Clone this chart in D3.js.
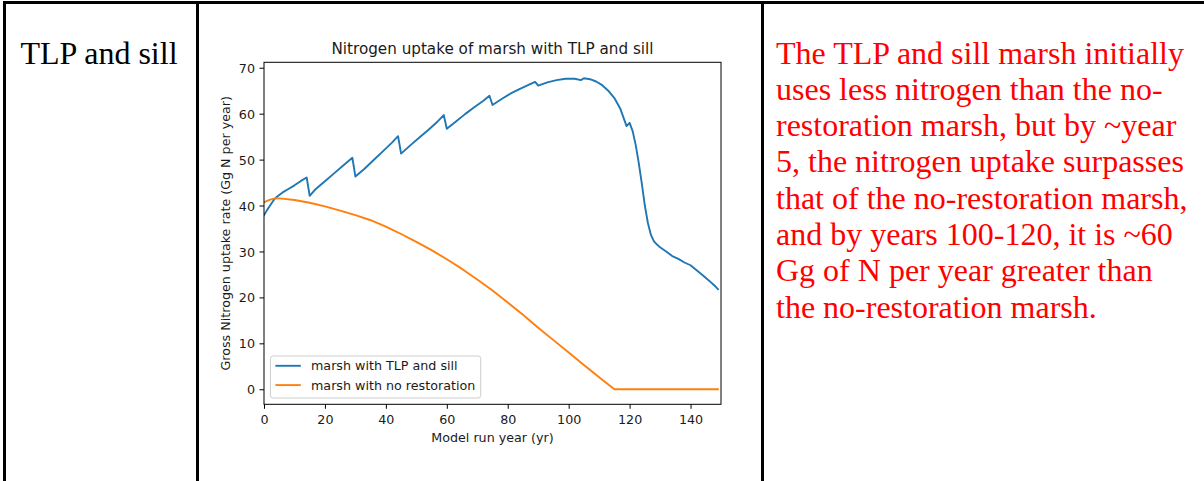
<!DOCTYPE html>
<html>
<head>
<meta charset="utf-8">
<script src="https://cdn.jsdelivr.net/npm/d3@7"></script>
<style>
  html, body { margin: 0; padding: 0; background: #fff; }
  svg { display: block; }
  .cell-text { font-family: "Liberation Serif", "Times New Roman", serif; font-size: 32px; }
  .note { fill: #ff0000; }
  .chart text { font-family: "DejaVu Sans", sans-serif; fill: #1a1a1a; }
  .tick-label { font-size: 12.7px; }
  .axis-label { font-size: 12.7px; }
  .title { font-size: 15.2px; }
  .legend-label { font-size: 12.7px; }
</style>
</head>
<body>
<div class="graphic"></div>
<script>
// ---- data ----
const rowLabel = "TLP and sill"
const chartTitle = "Nitrogen uptake of marsh with TLP and sill"
const xLabel = "Model run year (yr)"
const yLabel = "Gross Nitrogen uptake rate (Gg N per year)"
const seriesNames = ["marsh with TLP and sill", "marsh with no restoration"]

const tlpYears = [0, 1, 2, 3, 4, 6, 8, 10, 12, 14,
    15, 17, 20, 23, 26, 29,
    30, 33, 36, 39, 42, 44,
    45, 48, 51, 54, 57, 59,
    60, 63, 66, 69, 72, 74,
    75, 78, 81, 84, 87, 89,
    90, 93, 96, 99, 102, 104,
    105, 107, 109, 111, 113, 115, 117, 119,
    120, 121, 122, 123, 124, 125, 126, 127, 128, 129, 130,
    132, 134, 136, 138, 140, 142, 144, 146, 148, 149]
const tlpUptake = [37.9, 39.0, 40.0, 41.0, 41.8, 42.8, 43.6, 44.4, 45.3, 46.1,
    42.1, 43.6, 45.3, 47.0, 48.7, 50.4,
    46.3, 48.0, 49.9, 51.8, 53.7, 55.1,
    51.3, 53.1, 54.8, 56.5, 58.3, 59.7,
    56.7, 58.3, 59.9, 61.4, 62.8, 63.9,
    61.9, 63.2, 64.4, 65.4, 66.3, 66.9,
    66.1, 66.8, 67.3, 67.6, 67.6, 67.3,
    67.7, 67.5, 67.0, 66.2, 65.0, 63.4, 61.0, 57.3,
    58.0, 56.2, 53.2, 49.3, 44.8, 40.0, 36.2, 33.6, 32.2, 31.5, 30.9,
    30.0, 29.0, 28.4, 27.6, 27.0, 25.9, 24.8, 23.7, 22.5, 21.8]

const noRestYears = [0, 2, 4, 6, 10, 15, 20, 25, 30, 35, 40, 45, 50, 55, 60, 65,
    70, 75, 80, 85, 90, 95, 100, 105, 110, 115, 120, 130, 140, 149]
const noRestUptake = [40.7, 41.3, 41.6, 41.5, 41.2, 40.6, 39.8, 38.9, 37.9, 36.8, 35.4, 33.8, 32.1, 30.3, 28.3, 26.2,
    23.9, 21.5, 18.9, 16.2, 13.4, 10.7, 8.0, 5.3, 2.6, 0, 0, 0, 0, 0]

const xTicks = [0, 20, 40, 60, 80, 100, 120, 140]
const yTicks = [0, 10, 20, 30, 40, 50, 60, 70]

const noteLines = [
    "The TLP and sill marsh initially",
    "uses less nitrogen than the no-",
    "restoration marsh, but by ~year",
    "5, the nitrogen uptake surpasses",
    "that of the no-restoration marsh,",
    "and by years 100-120, it is ~60",
    "Gg of N per year greater than",
    "the no-restoration marsh."
]

const colors = ["#1f77b4", "#ff7f0e"]

const width = 1204
const height = 481

const $svg = d3.select(".graphic").append("svg")
    .attr("width", width)
    .attr("height", height)

$svg.append("rect")
    .attr("width", width)
    .attr("height", height)
    .attr("fill", "#fff")

function drawTable() {
    // thick word-table borders
    const bw = 3
    const g = $svg.append("g").attr("fill", "#000")
    g.append("rect").attr("x", 3).attr("y", 1).attr("width", width).attr("height", bw)
    g.append("rect").attr("x", 3).attr("y", 1).attr("width", bw).attr("height", height)
    g.append("rect").attr("x", 196).attr("y", 1).attr("width", bw).attr("height", height)
    g.append("rect").attr("x", 761).attr("y", 1).attr("width", bw).attr("height", height)

    $svg.append("text")
        .attr("class", "cell-text")
        .attr("x", 20.5)
        .attr("y", 63.5)
        .text(rowLabel)

    const note = $svg.append("text")
        .attr("class", "cell-text note")
        .attr("x", 776)
        .attr("y", 63.5)

    note.selectAll("tspan")
        .data(noteLines)
        .enter()
        .append("tspan")
        .attr("x", 776)
        .attr("y", (d, i) => 63.5 + i * 36.3)
        .text(d => d)
}

function drawChart() {
    const left = 264, right = 721, top = 62.3, bottom = 404.3
    const tickLen = 4.5

    const x = d3.scaleLinear().domain([0, 150]).range([left, right])
    const y = d3.scaleLinear().domain([-3.27, 71.18]).range([bottom, top])

    const chart = $svg.append("g").attr("class", "chart")

    const line = d3.line()
        .x(d => x(d[0]))
        .y(d => y(d[1]))

    const series = [
        d3.zip(tlpYears, tlpUptake),
        d3.zip(noRestYears, noRestUptake)
    ]

    chart.append("defs").append("clipPath")
        .attr("id", "plot-clip")
        .append("rect")
        .attr("x", left).attr("y", top)
        .attr("width", right - left).attr("height", bottom - top)

    chart.append("g")
        .attr("clip-path", "url(#plot-clip)")
        .selectAll("path.series")
        .data(series)
        .enter()
        .append("path")
        .attr("class", "series")
        .attr("d", line)
        .attr("fill", "none")
        .attr("stroke", (d, i) => colors[i])
        .attr("stroke-width", 1.9)
        .attr("stroke-linejoin", "round")
        .attr("stroke-linecap", "square")

    // x axis
    const xAxis = d3.axisBottom(x)
        .tickValues(xTicks)
        .tickSize(tickLen)
        .tickPadding(4.5)
        .tickFormat(d3.format("d"))

    const gx = chart.append("g")
        .attr("transform", "translate(0," + bottom + ")")
        .call(xAxis)
    gx.select(".domain").remove()
    gx.selectAll(".tick line").attr("stroke", "#000").attr("stroke-width", 1)
    gx.selectAll(".tick text")
        .attr("class", "tick-label")
        .attr("font-family", null)
        .attr("font-size", null)
        .attr("dy", "0.86em")
        .attr("fill", "#1a1a1a")

    // y axis
    const yAxis = d3.axisLeft(y)
        .tickValues(yTicks)
        .tickSize(tickLen)
        .tickPadding(4.5)
        .tickFormat(d3.format("d"))

    const gy = chart.append("g")
        .attr("transform", "translate(" + left + ",0)")
        .call(yAxis)
    gy.select(".domain").remove()
    gy.selectAll(".tick line").attr("stroke", "#000").attr("stroke-width", 1)
    gy.selectAll(".tick text")
        .attr("class", "tick-label")
        .attr("font-family", null)
        .attr("font-size", null)
        .attr("dy", "0.36em")
        .attr("fill", "#1a1a1a")

    // spines
    chart.append("rect")
        .attr("x", left).attr("y", top)
        .attr("width", right - left).attr("height", bottom - top)
        .attr("fill", "none")
        .attr("stroke", "#000")
        .attr("stroke-width", 1)

    chart.append("text")
        .attr("class", "title")
        .attr("x", (left + right) / 2)
        .attr("y", 54.3)
        .attr("text-anchor", "middle")
        .text(chartTitle)

    chart.append("text")
        .attr("class", "axis-label")
        .attr("x", (left + right) / 2)
        .attr("y", 442)
        .attr("text-anchor", "middle")
        .text(xLabel)

    chart.append("text")
        .attr("class", "axis-label")
        .attr("transform", "translate(230," + (top + bottom) / 2 + ") rotate(-90)")
        .attr("text-anchor", "middle")
        .text(yLabel)

    // legend, lower left
    const legend = chart.append("g")
    const box = legend.append("rect")
        .attr("fill", "#fff")
        .attr("fill-opacity", 0.8)
        .attr("stroke", "#cccccc")
        .attr("stroke-width", 1)
        .attr("rx", 2.5)

    const rows = legend.selectAll("g.row")
        .data(seriesNames)
        .enter()
        .append("g")
        .attr("class", "row")
        .attr("transform", (d, i) => "translate(0," + (365.8 + i * 19.3) + ")")

    rows.append("line")
        .attr("x1", 275.4).attr("x2", 300.8)
        .attr("stroke", (d, i) => colors[i])
        .attr("stroke-width", 1.9)

    rows.append("text")
        .attr("class", "legend-label")
        .attr("x", 311)
        .attr("dy", "0.36em")
        .text(d => d)

    let maxLen = 0
    rows.selectAll("text").each(function() {
        maxLen = Math.max(maxLen, this.getComputedTextLength())
    })
    box.attr("x", 270.4)
        .attr("y", 356)
        .attr("width", 311 + maxLen + 5.5 - 270.4)
        .attr("height", 398 - 356)
}

drawTable()
drawChart()
</script>
</body>
</html>
